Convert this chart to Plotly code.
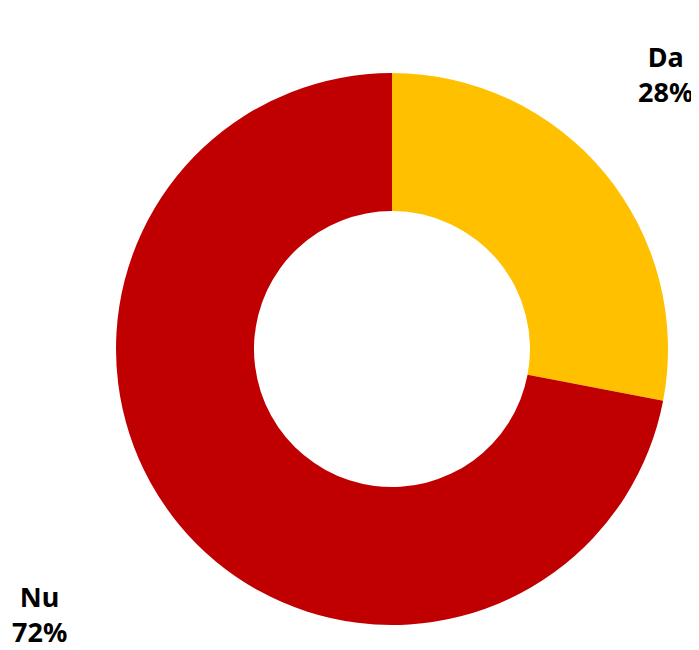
import plotly.graph_objects as go

labels = ["Da", "Nu"]
values = [28, 72]
colors = ["#FFC000", "#C00000"]

# page body has an 8px margin; positions below are in figure pixels
OFF = 8
W, H = 699 - OFF, 650 - OFF
cx, cy, r = 392 - OFF, 349 - OFF, 276
label_pos = {"Da": (665 - OFF, 74 - OFF), "Nu": (40 - OFF, 614 - OFF)}

fig = go.Figure(go.Pie(
    labels=labels, values=values, hole=0.5, sort=False,
    direction="clockwise", rotation=0,
    marker=dict(colors=colors, line=dict(width=0)),
    textinfo="none", hoverinfo="label+percent",
    domain=dict(x=[(cx - r) / W, (cx + r) / W], y=[(H - cy - r) / H, (H - cy + r) / H]),
    showlegend=False,
))

total = sum(values)
for lab, val in zip(labels, values):
    px, py = label_pos[lab]
    fig.add_annotation(
        x=px / W, y=(H - py) / H, xref="paper", yref="paper",
        text=f"<b>{lab}<br>{round(val / total * 100)}%</b>",
        showarrow=False, xanchor="center", yanchor="middle",
        font=dict(family="Noto Sans", size=27, color="#000000"),
    )

fig.update_layout(width=W, height=H, margin=dict(l=0, r=0, t=0, b=0),
                  paper_bgcolor="white", plot_bgcolor="white")
fig.write_html("out.html")
